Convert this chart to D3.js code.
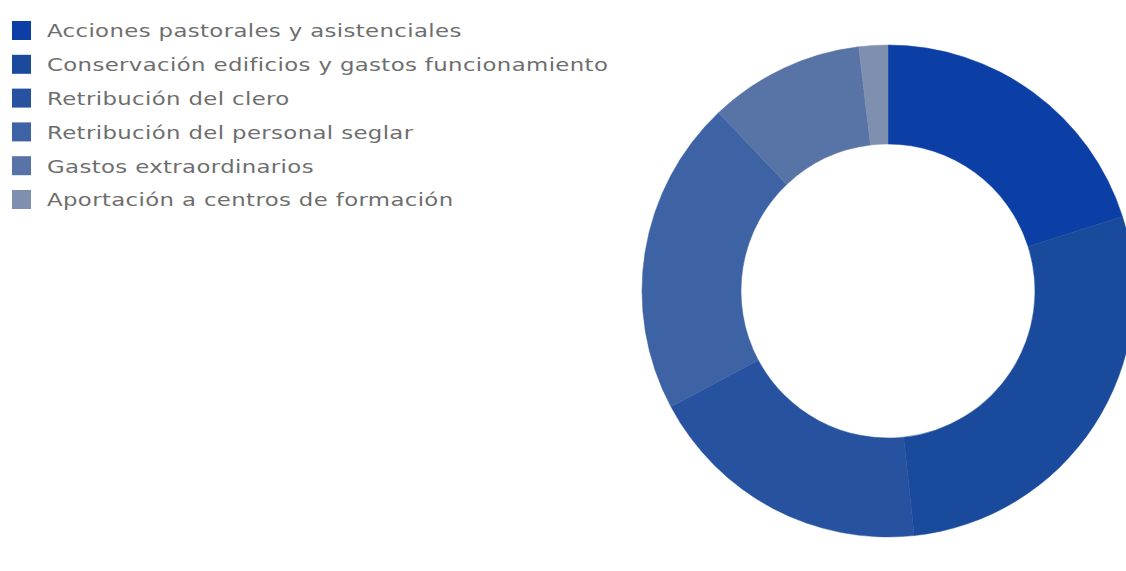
<!DOCTYPE html>
<html>
<head>
<meta charset="utf-8">
<script src="https://cdn.jsdelivr.net/npm/d3@7"></script>
<style>
  html, body { margin: 0; padding: 0; background: #ffffff; }
  svg { display: block; }
</style>
</head>
<body>
<svg id="chart" width="1126" height="571"></svg>
<script>
// Distribución de gastos (porcentaje sobre el total)
const categories = [
  "Acciones pastorales y asistenciales",
  "Conservación edificios y gastos funcionamiento",
  "Retribución del clero",
  "Retribución del personal seglar",
  "Gastos extraordinarios",
  "Aportación a centros de formación"
];
const values = [20.1, 28.2, 18.9, 20.7, 10.2, 1.9];
const colors = ["#0b3fa6", "#1a4a9c", "#2652a0", "#3e63a5", "#5874a7", "#7e8fb0"];

const svg = d3.select("#chart");

const cx = 888, cy = 291, outerR = 246, innerR = 147;

const pie = d3.pie().sort(null).value(d => d.value);
const arc = d3.arc().innerRadius(innerR).outerRadius(outerR);
const color = d3.scaleOrdinal().domain(categories).range(colors);

const data = categories.map((c, i) => ({ name: c, value: values[i] }));

svg.append("g")
  .attr("transform", `translate(${cx},${cy})`)
  .selectAll("path")
  .data(pie(data))
  .join("path")
  .attr("d", arc)
  .attr("fill", d => color(d.data.name))
  .attr("stroke", d => color(d.data.name))
  .attr("stroke-width", 0.5);

// Leyenda
const legend = svg.append("g").attr("transform", "translate(12,21)");
const row = legend.selectAll("g")
  .data(categories)
  .join("g")
  .attr("transform", (d, i) => `translate(0,${i * 33.8})`);

row.append("rect")
  .attr("width", 19)
  .attr("height", 19)
  .attr("fill", d => color(d));

const labels = row.append("text")
  .attr("font-family", "'DejaVu Sans', sans-serif")
  .attr("font-size", 18)
  .attr("letter-spacing", 0.3)
  .attr("fill", "#6e6e6e")
  .attr("dy", "0.35em")
  .text(d => d);

// Tipografía ancha: se estira horizontalmente (primera etiqueta ≈ 415 px)
const w0 = labels.node().getComputedTextLength();
const sx = 415 / w0;
labels.attr("transform", `translate(35,10) scale(${sx},1)`);
</script>
</body>
</html>
